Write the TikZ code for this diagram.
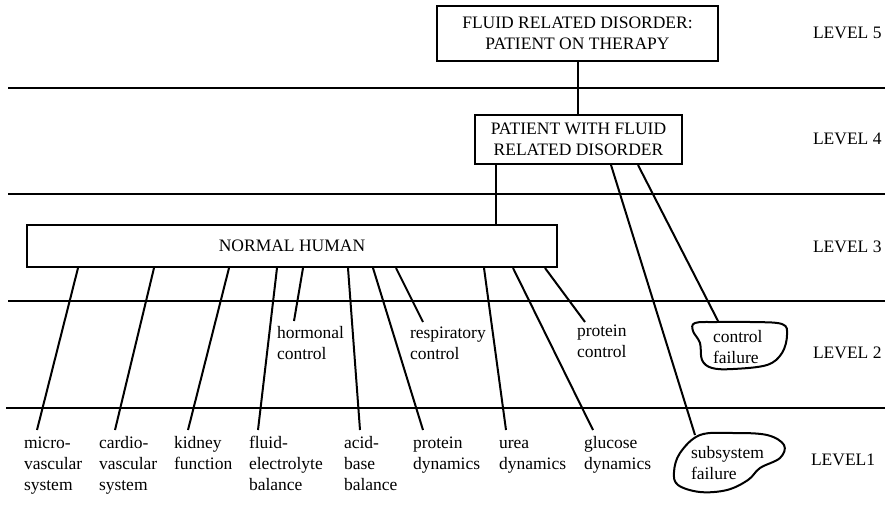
\documentclass[tikz,border=0pt]{standalone}
\usepackage{fontspec}
\setmainfont{Liberation Serif}
\newcommand\myfs{\fontsize{17.5}{21}\selectfont}
\newcommand\tl{\rule{0pt}{14pt}}
\begin{document}
\begin{tikzpicture}[x=1pt,y=-1pt,line width=2pt,
  box/.style={draw,line width=2pt,align=center,inner sep=0pt,font=\myfs},
  lbl/.style={anchor=north west,align=left,inner sep=0pt,font=\myfs},
  lvl/.style={anchor=west,inner sep=0pt,font=\myfs},
  sep/.style={line width=2pt},
  blob/.style={draw,line width=2pt}]
\useasboundingbox (0,0) rectangle (885,513);
% level separators
\draw[sep] (8,88) -- (885,88);
\draw[sep] (8,194) -- (885,194);
\draw[sep] (8,301) -- (885,301);
\draw[sep] (6,408) -- (885,408);
% boxes
\node[box,minimum width=281pt,minimum height=55pt] (b1) at (577.5,33.5) {FLUID RELATED DISORDER:\\PATIENT ON THERAPY};
\node[box,minimum width=207pt,minimum height=49pt] (b2) at (578.5,139.5) {PATIENT WITH FLUID\\RELATED DISORDER};
\node[box,minimum width=530pt,minimum height=42pt] (nh) at (292,246) {NORMAL HUMAN};
% level labels
\node[lvl] (l5) at (812,32.5) {LEVEL 5};
\node[lvl] (l4) at (812,139) {LEVEL 4};
\node[lvl] (l3) at (812,247) {LEVEL 3};
\node[lvl] (l2) at (812,353) {LEVEL 2};
\node[lvl] (l1) at (810,459.5) {LEVEL1};
% level 2 labels
\node[lbl] (hor) at (276,323) {\tl hormonal\\control};
\node[lbl] (res) at (409,323) {\tl respiratory\\control};
\node[lbl] (pco) at (576,321) {\tl protein\\control};
% level 1 labels
\node[lbl] (mic) at (23,433) {\tl micro-\\vascular\\system};
\node[lbl] (car) at (98,433) {\tl cardio-\\vascular\\system};
\node[lbl] (kid) at (173,433) {\tl kidney\\function};
\node[lbl] (flu) at (248,433) {\tl fluid-\\electrolyte\\balance};
\node[lbl] (aci) at (343,433) {\tl acid-\\base\\balance};
\node[lbl] (pdy) at (412,433) {\tl protein\\dynamics};
\node[lbl] (ure) at (498,433) {\tl urea\\dynamics};
\node[lbl] (glu) at (583,433) {\tl glucose\\dynamics};
% failure blobs
\draw[blob] plot[smooth cycle,tension=0.6] coordinates {(695,323) (717,322) (750,322) (782,324) (787,335) (782,353) (767,365) (733,369) (712,368) (702,360) (700,343) (693,331)};
\node[lbl] (cf) at (712,327) {\tl control\\failure};
\draw[blob] plot[smooth cycle,tension=0.6] coordinates {(700,435) (733,433) (767,435) (784,445) (780,458) (760,468) (748,480) (727,490) (700,492) (678,485) (674,472) (680,453)};
\node[lbl] (sf) at (690,443) {\tl subsystem\\failure};
% connector coordinates
\coordinate (cfE) at (718,321);
\coordinate (sfE) at (695,435);
\coordinate (x23) at (496,0);
\coordinate (xcf) at (638,0);
\coordinate (xsf) at (611,0);
% connectors
\draw (b1.south) -- (b1.south |- b2.north);
\draw (b2.south -| x23) -- (nh.north -| x23);
\draw (b2.south -| xsf) -- (sfE);
\draw (b2.south -| xcf) -- (cfE);
% normal human to subsystems
\foreach \sx/\ex/\ey/\nm in {78/37/430/a, 154/115/430/b, 229/188/430/c, 277/258/430/d, 303/294/321/e, 348/360/430/f, 373/423/430/g, 396/423/322/h, 484/506/430/i, 513/593/430/j, 545/585/322/k}{
  \coordinate (s\nm) at (\sx,0);
  \coordinate (e\nm) at (\ex,\ey);
  \draw (nh.south -| s\nm) -- (e\nm);
}
\end{tikzpicture}
\end{document}
